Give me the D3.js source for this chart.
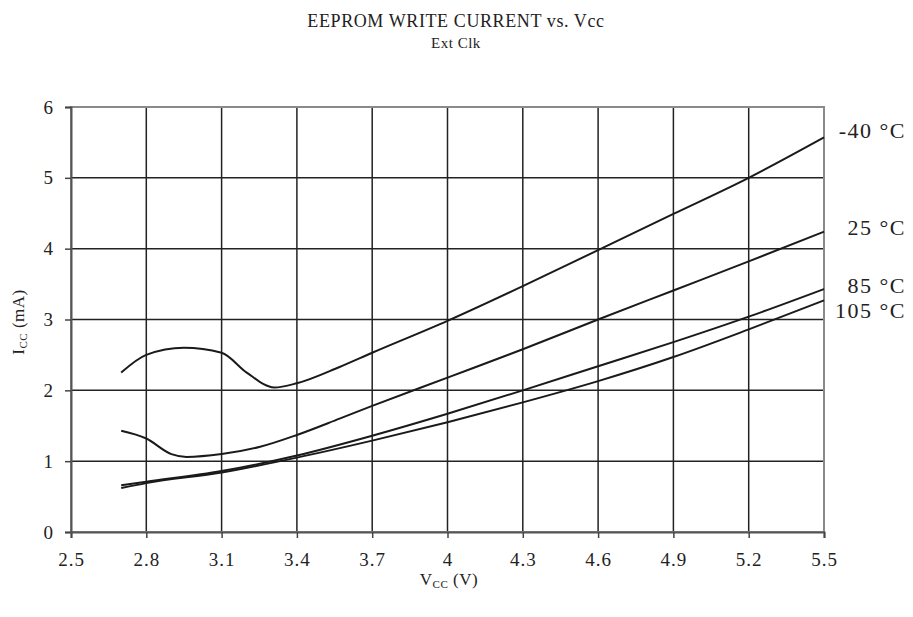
<!DOCTYPE html>
<html>
<head>
<meta charset="utf-8">
<script src="https://cdn.jsdelivr.net/npm/d3@7"></script>
<style>
  body { margin: 0; background: #fff; }
  text { font-family: "Liberation Serif", "Times New Roman", serif; fill: #222; }
</style>
</head>
<body>
<div id="chart"></div>
<script>
// Data
var xTicks = [2.5, 2.8, 3.1, 3.4, 3.7, 4.0, 4.3, 4.6, 4.9, 5.2, 5.5];
var yTicks = [0, 1, 2, 3, 4, 5, 6];

var vM40 = [2.7, 2.8, 2.95, 3.1, 3.2, 3.31, 3.4, 3.57, 3.7, 4.0, 4.3, 4.6, 4.9, 5.2, 5.5];
var iM40 = [2.25, 2.5, 2.6, 2.53, 2.25, 2.04, 2.1, 2.33, 2.53, 2.98, 3.47, 3.98, 4.49, 5.0, 5.57];

var v25 = [2.7, 2.8, 2.9, 2.96, 3.1, 3.25, 3.4, 3.57, 3.7, 4.0, 4.3, 4.6, 4.9, 5.2, 5.5];
var i25 = [1.43, 1.32, 1.1, 1.06, 1.1, 1.2, 1.37, 1.6, 1.78, 2.18, 2.58, 3.0, 3.41, 3.82, 4.24];

var v85 = [2.7, 2.8, 3.1, 3.4, 3.7, 4.0, 4.3, 4.6, 4.9, 5.2, 5.5];
var i85 = [0.66, 0.71, 0.86, 1.08, 1.36, 1.67, 2.0, 2.34, 2.68, 3.04, 3.43];

var v105 = [2.7, 2.8, 3.1, 3.4, 3.7, 4.0, 4.3, 4.6, 4.9, 5.2, 5.5];
var i105 = [0.62, 0.69, 0.84, 1.05, 1.29, 1.55, 1.83, 2.13, 2.47, 2.86, 3.27];

var seriesNames = ["-40 \u00B0C", "25 \u00B0C", "85 \u00B0C", "105 \u00B0C"];

function init() {
    var w = 913, h = 617;
    var left = 71, right = 824, top = 107, bottom = 532;

    var svg = d3.select("#chart").append("svg")
        .attr("width", w)
        .attr("height", h);

    var x = d3.scaleLinear().domain([2.5, 5.5]).range([left, right]);
    var y = d3.scaleLinear().domain([0, 6]).range([bottom, top]);

    // grid lines
    svg.append("g").selectAll("line.v")
        .data(xTicks.slice(1, -1))
        .enter().append("line")
        .attr("x1", function(d) { return x(d); })
        .attr("x2", function(d) { return x(d); })
        .attr("y1", top).attr("y2", bottom)
        .attr("stroke", "#222").attr("stroke-width", 1.5);

    svg.append("g").selectAll("line.h")
        .data(yTicks.slice(1, -1))
        .enter().append("line")
        .attr("x1", left).attr("x2", right)
        .attr("y1", function(d) { return y(d); })
        .attr("y2", function(d) { return y(d); })
        .attr("stroke", "#222").attr("stroke-width", 1.5);

    // frame
    svg.append("rect")
        .attr("x", left).attr("y", top)
        .attr("width", right - left).attr("height", bottom - top)
        .attr("fill", "none").attr("stroke", "#8a8a8a").attr("stroke-width", 2);

    // axes
    var xAxis = svg.append("g")
        .attr("transform", "translate(0," + bottom + ")")
        .call(d3.axisBottom(x).tickValues(xTicks).tickSize(6).tickPadding(15)
            .tickFormat(function(d) { return d === 4 ? "4" : d3.format(".1f")(d); }));
    var yAxis = svg.append("g")
        .attr("transform", "translate(" + left + ",0)")
        .call(d3.axisLeft(y).tickValues(yTicks).tickSize(6).tickPadding(11)
            .tickFormat(d3.format("d")));

    [xAxis, yAxis].forEach(function(a) {
        a.select(".domain").attr("stroke", "#555").attr("stroke-width", 2);
        a.selectAll(".tick line").attr("stroke", "#444").attr("stroke-width", 1.5);
        a.selectAll(".tick text")
            .attr("font-family", "Liberation Serif")
            .attr("font-size", 19)
            .attr("letter-spacing", 1)
            .attr("fill", "#222");
    });

    // curves
    var line = d3.line()
        .x(function(d) { return x(d[0]); })
        .y(function(d) { return y(d[1]); })
        .curve(d3.curveMonotoneX);

    var series = [
        d3.zip(vM40, iM40),
        d3.zip(v25, i25),
        d3.zip(v85, i85),
        d3.zip(v105, i105)
    ];

    svg.append("g").selectAll("path")
        .data(series)
        .enter().append("path")
        .attr("d", line)
        .attr("fill", "none")
        .attr("stroke", "#1a1a1a")
        .attr("stroke-width", 2);

    // series labels at the right end
    var labelY = [131, 228, 286, 311];
    svg.append("g").selectAll("text")
        .data(seriesNames)
        .enter().append("text")
        .attr("x", 906)
        .attr("y", function(d, i) { return labelY[i] + 7; })
        .attr("text-anchor", "end")
        .attr("font-size", 22)
        .attr("letter-spacing", 1.5)
        .text(function(d) { return d; });

    // titles
    svg.append("text")
        .attr("x", 456).attr("y", 27)
        .attr("text-anchor", "middle")
        .attr("font-size", 18)
        .attr("letter-spacing", 0.6)
        .text("EEPROM WRITE CURRENT vs. Vcc");
    svg.append("text")
        .attr("x", 456).attr("y", 48)
        .attr("text-anchor", "middle")
        .attr("font-size", 15)
        .attr("letter-spacing", 0.5)
        .text("Ext Clk");

    // axis titles with subscripts
    var xt = svg.append("text")
        .attr("x", 449).attr("y", 585)
        .attr("text-anchor", "middle")
        .attr("font-size", 17)
        .attr("letter-spacing", 0.5);
    xt.append("tspan").text("V");
    xt.append("tspan").attr("font-size", 11).attr("dy", 3).text("CC");
    xt.append("tspan").attr("dy", -3).text(" (V)");

    var yt = svg.append("text")
        .attr("transform", "translate(24,322) rotate(-90)")
        .attr("text-anchor", "middle")
        .attr("font-size", 17)
        .attr("letter-spacing", 0.5);
    yt.append("tspan").text("I");
    yt.append("tspan").attr("font-size", 11).attr("dy", 3).text("CC");
    yt.append("tspan").attr("dy", -3).text(" (mA)");
}

window.onload = init;
</script>
</body>
</html>
